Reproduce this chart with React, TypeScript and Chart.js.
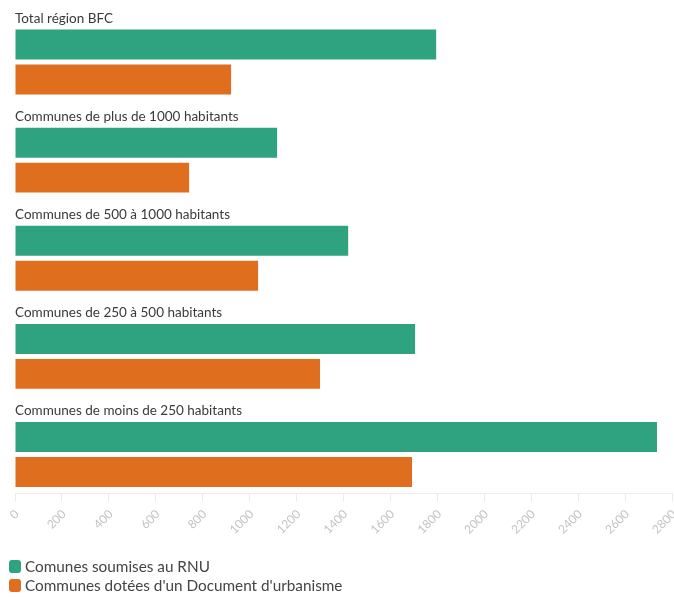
import React, { useEffect, useRef } from "react";
import { Chart, registerables } from "chart.js";

Chart.register(...registerables);

const categories = [
  "Total région BFC",
  "Communes de plus de 1000 habitants",
  "Communes de 500 à 1000 habitants",
  "Communes de 250 à 500 habitants",
  "Communes de moins de 250 habitants",
];
const seriesNames = ["Comunes soumises au RNU", "Communes dotées d'un Document d'urbanisme"];
const rnuValues = [1795, 1117, 1420, 1705, 2736];
const docValues = [921, 742, 1036, 1300, 1692];
const xTickValues = [0, 200, 400, 600, 800, 1000, 1200, 1400, 1600, 1800, 2000, 2200, 2400, 2600, 2800];
const seriesColors = ["#2fa37f", "#e06e1f"];

const FONT = "Lato, 'Open Sans', sans-serif";

export default function App() {
  const canvasRef = useRef<HTMLCanvasElement | null>(null);

  useEffect(() => {
    document.body.style.margin = "0";
    const canvas = canvasRef.current;
    if (!canvas) return;
    const chart = new Chart(canvas, {
      type: "bar",
      data: {
        datasets: [
          {
            label: seriesNames[0],
            data: rnuValues.map((v, i) => ({ x: v, y: i })),
            backgroundColor: seriesColors[0],
            categoryPercentage: 0.712,
            barPercentage: 0.857,
          },
          {
            label: seriesNames[1],
            data: docValues.map((v, i) => ({ x: v, y: i })),
            backgroundColor: seriesColors[1],
            categoryPercentage: 0.712,
            barPercentage: 0.857,
          },
        ],
      },
      options: {
        indexAxis: "y",
        animation: false,
        responsive: true,
        maintainAspectRatio: false,
        layout: { padding: { left: 15, right: 2, top: 10, bottom: 59 } },
        plugins: { legend: { display: false }, tooltip: { enabled: false } },
        scales: {
          x: {
            type: "linear",
            position: "bottom",
            min: 0,
            max: 2800,
            bounds: "data",
            afterBuildTicks: (s: any) => {
              s.ticks = xTickValues.map((v) => ({ value: v }));
            },
            afterFit: (s: any) => {
              s.height = 45;
              s.paddingLeft = 0;
              s.paddingRight = 0;
            },
            ticks: {
              autoSkip: false,
              minRotation: 45,
              maxRotation: 45,
              color: "#c4c4c4",
              font: { family: FONT, size: 12 },
              padding: 5,
              labelOffset: 2,
              callback: (v: any) => String(v),
            },
            grid: { drawOnChartArea: false, drawTicks: true, tickLength: 9, color: "#ececec" },
            border: { color: "#ececec" },
          },
          y: {
            type: "linear",
            reverse: true,
            offset: false,
            bounds: "data",
            min: -0.53,
            max: 4.392,
            afterBuildTicks: (s: any) => {
              s.ticks = categories.map((_, i) => ({ value: i }));
            },
            afterFit: (s: any) => {
              s.width = 0;
              s.paddingTop = 0;
              s.paddingBottom = 0;
            },
            ticks: {
              mirror: true,
              padding: 0,
              labelOffset: -43.5,
              autoSkip: false,
              color: "#3a3a3a",
              font: { family: FONT, size: 13.5 },
              callback: (v: any) => categories[v] ?? "",
            },
            grid: { display: false, drawTicks: false, offset: false },
            border: { display: false },
          },
        },
      },
    });
    return () => chart.destroy();
  }, []);

  return (
    <div style={{ position: "relative", width: 674, height: 597 }}>
      <canvas ref={canvasRef} />
      <div
        style={{
          position: "absolute",
          left: 9,
          top: 557,
          fontFamily: FONT,
          fontSize: 15.3,
          color: "#444",
          lineHeight: "19px",
        }}
      >
        {seriesNames.map((name, i) => (
          <div key={name} style={{ display: "flex", alignItems: "center" }}>
            <span
              style={{
                display: "inline-block",
                width: 12,
                height: 13,
                borderRadius: 3,
                background: seriesColors[i],
                marginRight: 4,
              }}
            />
            <span>{name}</span>
          </div>
        ))}
      </div>
    </div>
  );
}
